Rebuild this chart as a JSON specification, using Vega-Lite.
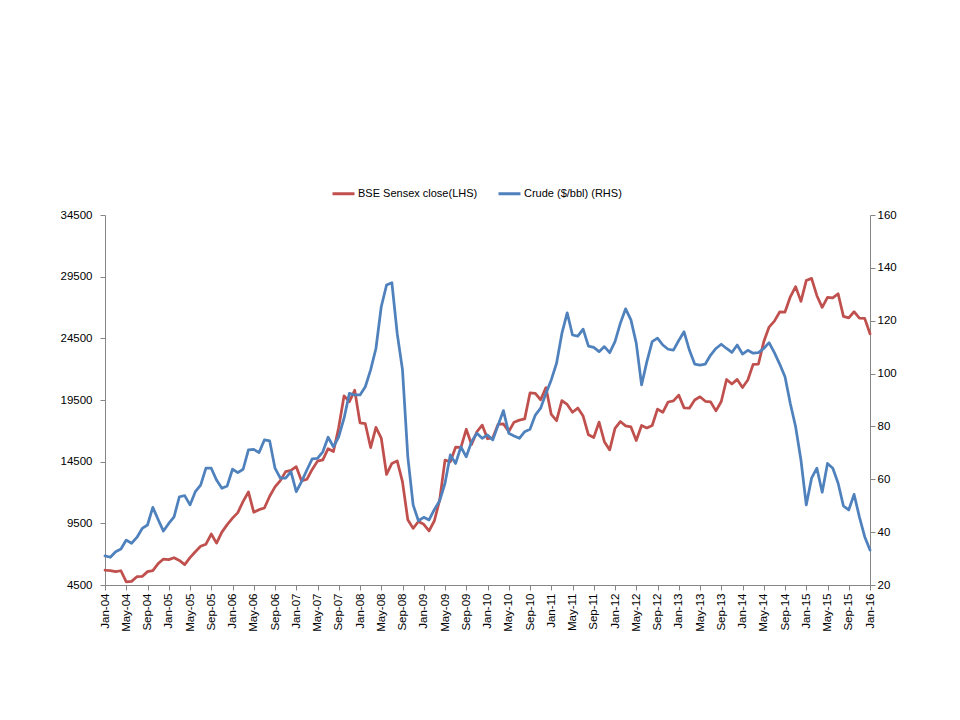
{
  "$schema": "https://vega.github.io/schema/vega-lite/v6.json",
  "width": 765,
  "height": 370,
  "autosize": {"type": "none"},
  "padding": {"left": 105, "top": 215, "right": 90, "bottom": 135},
  "background": "white",
  "config": {
    "view": {"stroke": null},
    "font": "Liberation Sans",
    "axis": {
      "grid": false,
      "domainColor": "#868686",
      "domainWidth": 1,
      "tickColor": "#868686",
      "tickSize": 5,
      "labelColor": "#000000",
      "labelFont": "Liberation Sans",
      "labelFontSize": 11.5,
      "title": null
    }
  },
  "data": {
    "values": [
      {"month": "Jan-04", "sensex": 5696, "crude": 31.0},
      {"month": "Feb-04", "sensex": 5667, "crude": 30.5},
      {"month": "Mar-04", "sensex": 5591, "crude": 32.6},
      {"month": "Apr-04", "sensex": 5655, "crude": 33.6},
      {"month": "May-04", "sensex": 4760, "crude": 37.0},
      {"month": "Jun-04", "sensex": 4795, "crude": 35.8},
      {"month": "Jul-04", "sensex": 5170, "crude": 38.0},
      {"month": "Aug-04", "sensex": 5192, "crude": 41.4},
      {"month": "Sep-04", "sensex": 5584, "crude": 42.7},
      {"month": "Oct-04", "sensex": 5672, "crude": 49.4},
      {"month": "Nov-04", "sensex": 6234, "crude": 44.8},
      {"month": "Dec-04", "sensex": 6603, "crude": 40.4},
      {"month": "Jan-05", "sensex": 6556, "crude": 43.3},
      {"month": "Feb-05", "sensex": 6714, "crude": 45.8},
      {"month": "Mar-05", "sensex": 6493, "crude": 53.4},
      {"month": "Apr-05", "sensex": 6154, "crude": 53.8},
      {"month": "May-05", "sensex": 6715, "crude": 50.3},
      {"month": "Jun-05", "sensex": 7194, "crude": 55.3},
      {"month": "Jul-05", "sensex": 7635, "crude": 57.8},
      {"month": "Aug-05", "sensex": 7805, "crude": 64.2},
      {"month": "Sep-05", "sensex": 8634, "crude": 64.2},
      {"month": "Oct-05", "sensex": 7892, "crude": 59.7},
      {"month": "Nov-05", "sensex": 8789, "crude": 56.6},
      {"month": "Dec-05", "sensex": 9398, "crude": 57.5},
      {"month": "Jan-06", "sensex": 9920, "crude": 63.8},
      {"month": "Feb-06", "sensex": 10370, "crude": 62.5},
      {"month": "Mar-06", "sensex": 11280, "crude": 63.8},
      {"month": "Apr-06", "sensex": 12043, "crude": 71.1},
      {"month": "May-06", "sensex": 10399, "crude": 71.3},
      {"month": "Jun-06", "sensex": 10609, "crude": 70.1},
      {"month": "Jul-06", "sensex": 10744, "crude": 74.9},
      {"month": "Aug-06", "sensex": 11699, "crude": 74.5},
      {"month": "Sep-06", "sensex": 12454, "crude": 64.2},
      {"month": "Oct-06", "sensex": 12962, "crude": 60.4},
      {"month": "Nov-06", "sensex": 13696, "crude": 60.4},
      {"month": "Dec-06", "sensex": 13787, "crude": 62.9},
      {"month": "Jan-07", "sensex": 14091, "crude": 55.3},
      {"month": "Feb-07", "sensex": 12938, "crude": 59.1},
      {"month": "Mar-07", "sensex": 13072, "crude": 63.5},
      {"month": "Apr-07", "sensex": 13872, "crude": 67.7},
      {"month": "May-07", "sensex": 14544, "crude": 67.9},
      {"month": "Jun-07", "sensex": 14651, "crude": 70.4},
      {"month": "Jul-07", "sensex": 15551, "crude": 75.9},
      {"month": "Aug-07", "sensex": 15319, "crude": 72.3},
      {"month": "Sep-07", "sensex": 17291, "crude": 76.1},
      {"month": "Oct-07", "sensex": 19838, "crude": 83.1},
      {"month": "Nov-07", "sensex": 19363, "crude": 92.5},
      {"month": "Dec-07", "sensex": 20287, "crude": 91.9},
      {"month": "Jan-08", "sensex": 17649, "crude": 91.9},
      {"month": "Feb-08", "sensex": 17579, "crude": 95.0},
      {"month": "Mar-08", "sensex": 15644, "crude": 101.4},
      {"month": "Apr-08", "sensex": 17287, "crude": 109.5},
      {"month": "May-08", "sensex": 16416, "crude": 125.3},
      {"month": "Jun-08", "sensex": 13462, "crude": 133.5},
      {"month": "Jul-08", "sensex": 14356, "crude": 134.4},
      {"month": "Aug-08", "sensex": 14565, "crude": 115.2},
      {"month": "Sep-08", "sensex": 12860, "crude": 101.4},
      {"month": "Oct-08", "sensex": 9788, "crude": 68.5},
      {"month": "Nov-08", "sensex": 9093, "crude": 50.3},
      {"month": "Dec-08", "sensex": 9647, "crude": 44.3},
      {"month": "Jan-09", "sensex": 9424, "crude": 45.6},
      {"month": "Feb-09", "sensex": 8892, "crude": 44.6},
      {"month": "Mar-09", "sensex": 9709, "crude": 48.6},
      {"month": "Apr-09", "sensex": 11403, "crude": 51.9},
      {"month": "May-09", "sensex": 14625, "crude": 58.5},
      {"month": "Jun-09", "sensex": 14494, "crude": 69.2},
      {"month": "Jul-09", "sensex": 15670, "crude": 66.0},
      {"month": "Aug-09", "sensex": 15667, "crude": 72.3},
      {"month": "Sep-09", "sensex": 17127, "crude": 68.5},
      {"month": "Oct-09", "sensex": 15896, "crude": 74.2},
      {"month": "Nov-09", "sensex": 16926, "crude": 77.4},
      {"month": "Dec-09", "sensex": 17465, "crude": 75.5},
      {"month": "Jan-10", "sensex": 16358, "crude": 76.8},
      {"month": "Feb-10", "sensex": 16430, "crude": 74.9},
      {"month": "Mar-10", "sensex": 17528, "crude": 80.5},
      {"month": "Apr-10", "sensex": 17559, "crude": 86.0},
      {"month": "May-10", "sensex": 16945, "crude": 77.4},
      {"month": "Jun-10", "sensex": 17701, "crude": 76.4},
      {"month": "Jul-10", "sensex": 17868, "crude": 75.5},
      {"month": "Aug-10", "sensex": 17971, "crude": 78.0},
      {"month": "Sep-10", "sensex": 20069, "crude": 78.9},
      {"month": "Oct-10", "sensex": 20032, "crude": 84.3},
      {"month": "Nov-10", "sensex": 19521, "crude": 86.9},
      {"month": "Dec-10", "sensex": 20509, "crude": 92.5},
      {"month": "Jan-11", "sensex": 18328, "crude": 97.6},
      {"month": "Feb-11", "sensex": 17823, "crude": 103.9},
      {"month": "Mar-11", "sensex": 19445, "crude": 115.2},
      {"month": "Apr-11", "sensex": 19136, "crude": 123.0},
      {"month": "May-11", "sensex": 18503, "crude": 114.6},
      {"month": "Jun-11", "sensex": 18846, "crude": 114.2},
      {"month": "Jul-11", "sensex": 18197, "crude": 116.8},
      {"month": "Aug-11", "sensex": 16677, "crude": 110.4},
      {"month": "Sep-11", "sensex": 16454, "crude": 109.9},
      {"month": "Oct-11", "sensex": 17705, "crude": 108.3},
      {"month": "Nov-11", "sensex": 16123, "crude": 110.2},
      {"month": "Dec-11", "sensex": 15455, "crude": 107.9},
      {"month": "Jan-12", "sensex": 17194, "crude": 112.1},
      {"month": "Feb-12", "sensex": 17753, "crude": 119.0},
      {"month": "Mar-12", "sensex": 17404, "crude": 124.5},
      {"month": "Apr-12", "sensex": 17319, "crude": 120.3},
      {"month": "May-12", "sensex": 16219, "crude": 111.5},
      {"month": "Jun-12", "sensex": 17430, "crude": 95.7},
      {"month": "Jul-12", "sensex": 17236, "crude": 104.5},
      {"month": "Aug-12", "sensex": 17430, "crude": 112.1},
      {"month": "Sep-12", "sensex": 18763, "crude": 113.4},
      {"month": "Oct-12", "sensex": 18505, "crude": 110.8},
      {"month": "Nov-12", "sensex": 19340, "crude": 109.2},
      {"month": "Dec-12", "sensex": 19427, "crude": 108.9},
      {"month": "Jan-13", "sensex": 19895, "crude": 112.5},
      {"month": "Feb-13", "sensex": 18862, "crude": 115.8},
      {"month": "Mar-13", "sensex": 18836, "crude": 108.9},
      {"month": "Apr-13", "sensex": 19504, "crude": 103.6},
      {"month": "May-13", "sensex": 19760, "crude": 103.2},
      {"month": "Jun-13", "sensex": 19396, "crude": 103.6},
      {"month": "Jul-13", "sensex": 19346, "crude": 107.0},
      {"month": "Aug-13", "sensex": 18620, "crude": 109.5},
      {"month": "Sep-13", "sensex": 19380, "crude": 111.1},
      {"month": "Oct-13", "sensex": 21165, "crude": 109.5},
      {"month": "Nov-13", "sensex": 20792, "crude": 108.0},
      {"month": "Dec-13", "sensex": 21171, "crude": 110.8},
      {"month": "Jan-14", "sensex": 20514, "crude": 107.4},
      {"month": "Feb-14", "sensex": 21120, "crude": 108.8},
      {"month": "Mar-14", "sensex": 22386, "crude": 107.7},
      {"month": "Apr-14", "sensex": 22418, "crude": 107.9},
      {"month": "May-14", "sensex": 24217, "crude": 109.5},
      {"month": "Jun-14", "sensex": 25414, "crude": 111.7},
      {"month": "Jul-14", "sensex": 25895, "crude": 107.9},
      {"month": "Aug-14", "sensex": 26638, "crude": 103.6},
      {"month": "Sep-14", "sensex": 26631, "crude": 98.8},
      {"month": "Oct-14", "sensex": 27866, "crude": 88.7},
      {"month": "Nov-14", "sensex": 28694, "crude": 79.9},
      {"month": "Dec-14", "sensex": 27499, "crude": 67.3},
      {"month": "Jan-15", "sensex": 29183, "crude": 50.3},
      {"month": "Feb-15", "sensex": 29362, "crude": 60.4},
      {"month": "Mar-15", "sensex": 27957, "crude": 64.2},
      {"month": "Apr-15", "sensex": 27011, "crude": 55.1},
      {"month": "May-15", "sensex": 27828, "crude": 66.0},
      {"month": "Jun-15", "sensex": 27781, "crude": 64.2},
      {"month": "Jul-15", "sensex": 28115, "crude": 58.5},
      {"month": "Aug-15", "sensex": 26283, "crude": 49.9},
      {"month": "Sep-15", "sensex": 26155, "crude": 48.4},
      {"month": "Oct-15", "sensex": 26657, "crude": 54.3},
      {"month": "Nov-15", "sensex": 26146, "crude": 45.8},
      {"month": "Dec-15", "sensex": 26118, "crude": 38.3},
      {"month": "Jan-16", "sensex": 24871, "crude": 33.2}
    ]
  },
  "encoding": {
    "x": {
      "field": "month",
      "type": "ordinal",
      "sort": null,
      "scale": {"type": "point", "padding": 0},
      "axis": {
        "values": ["Jan-04", "May-04", "Sep-04", "Jan-05", "May-05", "Sep-05", "Jan-06", "May-06", "Sep-06", "Jan-07", "May-07", "Sep-07", "Jan-08", "May-08", "Sep-08", "Jan-09", "May-09", "Sep-09", "Jan-10", "May-10", "Sep-10", "Jan-11", "May-11", "Sep-11", "Jan-12", "May-12", "Sep-12", "Jan-13", "May-13", "Sep-13", "Jan-14", "May-14", "Sep-14", "Jan-15", "May-15", "Sep-15", "Jan-16"],
        "labelAngle": -90,
        "labelPadding": 3,
        "labelOverlap": false
      }
    }
  },
  "layer": [
    {
      "mark": {"type": "line", "strokeWidth": 2.75, "strokeJoin": "round", "strokeCap": "round"},
      "encoding": {
        "y": {
          "field": "sensex",
          "type": "quantitative",
          "scale": {"domain": [4500, 34500], "nice": false, "zero": false},
          "axis": {
            "orient": "left",
            "values": [4500, 9500, 14500, 19500, 24500, 29500, 34500],
            "format": "d",
            "labelPadding": 8
          }
        },
        "color": {
          "datum": "BSE Sensex close(LHS)",
          "type": "nominal",
          "scale": {
            "domain": ["BSE Sensex close(LHS)", "Crude ($/bbl) (RHS)"],
            "range": ["#C0504D", "#4F81BD"]
          },
          "legend": {
            "orient": "none",
            "direction": "horizontal",
            "legendX": 226,
            "legendY": -34,
            "title": null,
            "padding": 0,
            "symbolType": "stroke",
            "symbolSize": 484,
            "symbolStrokeWidth": 3,
            "labelFont": "Liberation Sans",
            "labelFontSize": 11,
            "labelColor": "#000000",
            "labelOffset": 2,
            "columnPadding": 14
          }
        }
      }
    },
    {
      "mark": {"type": "line", "strokeWidth": 2.75, "strokeJoin": "round", "strokeCap": "round"},
      "encoding": {
        "y": {
          "field": "crude",
          "type": "quantitative",
          "scale": {"domain": [20, 160], "nice": false, "zero": false},
          "axis": {
            "orient": "right",
            "values": [20, 40, 60, 80, 100, 120, 140, 160],
            "labelPadding": 2
          }
        },
        "color": {"datum": "Crude ($/bbl) (RHS)", "type": "nominal"}
      }
    }
  ],
  "resolve": {"scale": {"y": "independent"}}
}
